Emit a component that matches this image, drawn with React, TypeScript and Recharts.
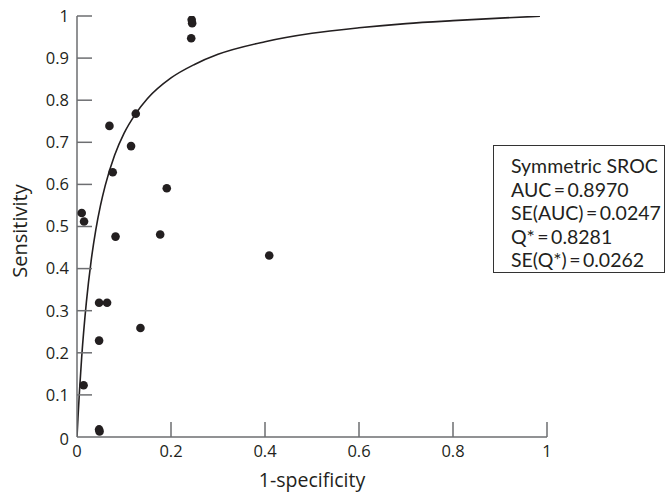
import React from 'react';
import { ComposedChart, XAxis, YAxis, Line, Scatter } from 'recharts';

const studyPoints = [
  { x: 0.244, y: 0.991 },
  { x: 0.245, y: 0.983 },
  { x: 0.243, y: 0.947 },
  { x: 0.069, y: 0.739 },
  { x: 0.125, y: 0.768 },
  { x: 0.115, y: 0.691 },
  { x: 0.076, y: 0.629 },
  { x: 0.191, y: 0.591 },
  { x: 0.01, y: 0.532 },
  { x: 0.015, y: 0.512 },
  { x: 0.082, y: 0.476 },
  { x: 0.177, y: 0.481 },
  { x: 0.409, y: 0.431 },
  { x: 0.047, y: 0.319 },
  { x: 0.064, y: 0.319 },
  { x: 0.047, y: 0.229 },
  { x: 0.135, y: 0.259 },
  { x: 0.014, y: 0.123 },
  { x: 0.047, y: 0.018 },
  { x: 0.048, y: 0.013 },
];

const srocCurve = [
  { x: 0, y: 0 },
  { x: 0.002, y: 0.044 },
  { x: 0.005, y: 0.104 },
  { x: 0.01, y: 0.19 },
  { x: 0.02, y: 0.321 },
  { x: 0.03, y: 0.418 },
  { x: 0.04, y: 0.492 },
  { x: 0.05, y: 0.55 },
  { x: 0.06, y: 0.597 },
  { x: 0.08, y: 0.669 },
  { x: 0.1, y: 0.721 },
  { x: 0.125, y: 0.768 },
  { x: 0.15, y: 0.804 },
  { x: 0.2, y: 0.853 },
  { x: 0.25, y: 0.885 },
  { x: 0.3, y: 0.909 },
  { x: 0.4, y: 0.939 },
  { x: 0.5, y: 0.959 },
  { x: 0.6, y: 0.972 },
  { x: 0.7, y: 0.982 },
  { x: 0.8, y: 0.989 },
  { x: 0.9, y: 0.995 },
  { x: 0.985, y: 0.9995 },
];

const xTicks = [0, 0.2, 0.4, 0.6, 0.8, 1];
const yTicks = [0, 0.1, 0.2, 0.3, 0.4, 0.5, 0.6, 0.7, 0.8, 0.9, 1];
const xTickLabels = ['0', '0.2', '0.4', '0.6', '0.8', '1'];
const yTickLabels = ['0', '0.1', '0.2', '0.3', '0.4', '0.5', '0.6', '0.7', '0.8', '0.9', '1'];

const legendLines = [
  'Symmetric SROC',
  'AUC\u2009=\u20090.8970',
  'SE(AUC)\u2009=\u20090.0247',
  'Q*\u2009=\u20090.8281',
  'SE(Q*)\u2009=\u20090.0262',
];

const FONT = '"Open Sans", "Noto Sans", sans-serif';
const LEGEND_FONT = 'Lato, "Open Sans", sans-serif';
const INK = '#231f20';
const AXIS = '#6d6e71';

const XTick = (props: any) => {
  const { x, y, payload } = props;
  const idx = xTicks.indexOf(payload.value);
  const label = idx >= 0 ? xTickLabels[idx] : String(payload.value);
  return (
    <g>
      {payload.value !== 0 && (
        <line x1={x} x2={x} y1={y} y2={y - 15} stroke={AXIS} strokeWidth={1.5} />
      )}
      <text x={x} y={y + 19.5} textAnchor="middle" fill={INK} fontSize={16.5} fontFamily={FONT}>
        {label}
      </text>
    </g>
  );
};

const YTick = (props: any) => {
  const { x, y, payload } = props;
  const idx = yTicks.indexOf(payload.value);
  const label = idx >= 0 ? yTickLabels[idx] : String(payload.value);
  return (
    <g>
      {payload.value !== 0 && (
        <line x1={x} x2={x + 15} y1={y} y2={y} stroke={AXIS} strokeWidth={1.5} />
      )}
      <text
        x={x - 8}
        y={payload.value === 0 ? y + 8 : y + 5.8}
        textAnchor="end"
        fill={INK}
        fontSize={16.5}
        fontFamily={FONT}
      >
        {label}
      </text>
    </g>
  );
};

const XTitle = (props: any) => {
  const vb = props.viewBox || { x: 77, y: 437, width: 470, height: 55 };
  return (
    <text
      x={vb.x + vb.width / 2}
      y={vb.y + 49.5}
      textAnchor="middle"
      fill={INK}
      fontSize={19.5}
      fontFamily={FONT}
    >
      1-specificity
    </text>
  );
};

const YTitle = (props: any) => {
  const vb = props.viewBox || { x: 0, y: 16, width: 77, height: 421 };
  const cx = 27;
  const cy = vb.y + vb.height / 2 + 4.5;
  return (
    <text
      x={cx}
      y={cy}
      transform={`rotate(-90, ${cx}, ${cy})`}
      textAnchor="middle"
      fill={INK}
      fontSize={20}
      fontFamily={FONT}
    >
      Sensitivity
    </text>
  );
};

const Dot = (props: any) => <circle cx={props.cx} cy={props.cy} r={4.3} fill={INK} />;

export default function App() {
  return (
    <div style={{ position: 'absolute', left: 0, top: 0, width: 667, height: 492, background: '#fff' }}>
      <ComposedChart
        width={667}
        height={492}
        margin={{ top: 16, right: 120, bottom: 0, left: 0 }}
      >
        <XAxis
          type="number"
          dataKey="x"
          domain={[0, 1]}
          ticks={xTicks}
          tick={<XTick />}
          tickLine={false}
          tickSize={0}
          tickMargin={0}
          axisLine={{ stroke: AXIS, strokeWidth: 1.5 }}
          height={55}
          allowDataOverflow
          interval={0}
          label={<XTitle />}
        />
        <YAxis
          type="number"
          dataKey="y"
          domain={[0, 1]}
          ticks={yTicks}
          tick={<YTick />}
          tickLine={false}
          tickSize={0}
          tickMargin={0}
          axisLine={{ stroke: AXIS, strokeWidth: 1.5 }}
          width={77}
          allowDataOverflow
          interval={0}
          label={<YTitle />}
        />
        <Line
          data={srocCurve}
          dataKey="y"
          type="monotone"
          stroke={INK}
          strokeWidth={1.6}
          dot={false}
          activeDot={false}
          isAnimationActive={false}
        />
        <Scatter data={studyPoints} dataKey="y" shape={<Dot />} isAnimationActive={false} />
      </ComposedChart>
      <div
        style={{
          position: 'absolute',
          left: 493,
          top: 145,
          width: 172,
          height: 128,
          boxSizing: 'border-box',
          border: '1.3px solid #333',
          paddingTop: 8,
          paddingLeft: 17,
          fontFamily: LEGEND_FONT,
          fontSize: 19.5,
          lineHeight: '23.5px',
          color: INK,
          whiteSpace: 'nowrap',
        }}
      >
        {legendLines.map((t) => (
          <div key={t}>{t}</div>
        ))}
      </div>
    </div>
  );
}
